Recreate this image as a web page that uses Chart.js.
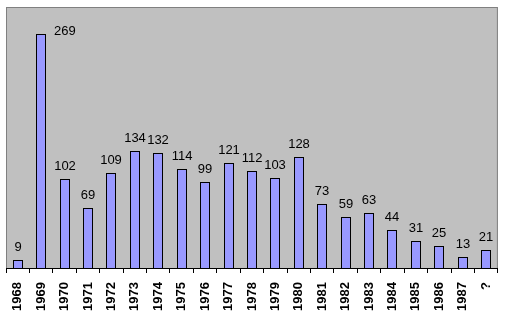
<!DOCTYPE html>
<html>
<head>
<meta charset="utf-8">
<script src="https://cdn.jsdelivr.net/npm/chart.js@4/dist/chart.umd.min.js"></script>
<style>
  html, body { margin: 0; padding: 0; background: #ffffff; }
  #wrap { width: 511px; height: 329px; position: relative; }
</style>
</head>
<body>
<div id="wrap"><canvas id="c" width="511" height="329"></canvas></div>
<script>
// Yearly counts, with an unknown-year bucket at the end
const years = ['1968', '1969', '1970', '1971', '1972', '1973', '1974', '1975', '1976', '1977',
               '1978', '1979', '1980', '1981', '1982', '1983', '1984', '1985', '1986', '1987', '?'];
const counts = [9, 269, 102, 69, 109, 134, 132, 114, 99, 121,
                112, 103, 128, 73, 59, 63, 44, 31, 25, 13, 21];
const yMax = 300;

const FONT = "'Liberation Sans', Arial, sans-serif";

// Grey plot background with a thin frame
const plotFrame = {
  id: 'plotFrame',
  beforeDraw(chart) {
    const { ctx, chartArea: a } = chart;
    ctx.save();
    ctx.fillStyle = '#c0c0c0';
    ctx.fillRect(a.left, a.top, a.right - a.left, a.bottom - a.top);
    ctx.strokeStyle = '#808080';
    ctx.lineWidth = 1;
    ctx.strokeRect(a.left + 0.5, a.top + 0.5, a.right - a.left - 1, a.bottom - a.top);
    ctx.restore();
  }
};

// Snap bars to whole pixels so the outlines stay crisp
const pixelSnap = {
  id: 'pixelSnap',
  beforeDatasetsDraw(chart) {
    chart.getDatasetMeta(0).data.forEach(bar => {
      bar.x = Math.round(bar.x);
      bar.y = Math.round(bar.y);
    });
  }
};

// Value printed above each bar; a label that would crowd the top edge goes beside the bar
const valueLabels = {
  id: 'valueLabels',
  afterDatasetsDraw(chart) {
    const { ctx, chartArea: a } = chart;
    const meta = chart.getDatasetMeta(0);
    ctx.save();
    ctx.font = '13px ' + FONT;
    ctx.fillStyle = '#000000';
    ctx.textBaseline = 'alphabetic';
    meta.data.forEach((bar, i) => {
      const text = String(chart.data.datasets[0].data[i]);
      const baseline = bar.y - 9;
      if (baseline - 10 - a.top < 20) {
        ctx.textAlign = 'left';
        ctx.fillText(text, bar.x + bar.width / 2 + 8, bar.y + 1);
      } else {
        ctx.textAlign = 'center';
        ctx.fillText(text, bar.x, baseline);
      }
    });
    ctx.restore();
  }
};

new Chart(document.getElementById('c'), {
  type: 'bar',
  data: {
    labels: years,
    datasets: [{
      data: counts,
      backgroundColor: '#9999ff',
      borderColor: '#000000',
      borderWidth: 1,
      inflateAmount: 0,
      barThickness: 10
    }]
  },
  options: {
    responsive: false,
    animation: false,
    events: [],
    layout: { padding: { left: 6, right: 9, top: 7, bottom: 0 } },
    plugins: { legend: { display: false }, tooltip: { enabled: false } },
    scales: {
      x: {
        grid: {
          display: true,
          drawOnChartArea: false,
          drawTicks: true,
          tickLength: 5,
          color: '#000000',
          offset: true
        },
        border: { display: true, color: '#000000', width: 1 },
        ticks: {
          autoSkip: false,
          minRotation: 90,
          maxRotation: 90,
          padding: 9,
          color: '#000000',
          font: { family: FONT, size: 13, weight: 'bold' }
        },
        afterFit(scale) { scale.height = 61; }
      },
      y: {
        display: false,
        min: 0,
        max: yMax
      }
    }
  },
  plugins: [plotFrame, pixelSnap, valueLabels]
});
</script>
</body>
</html>
